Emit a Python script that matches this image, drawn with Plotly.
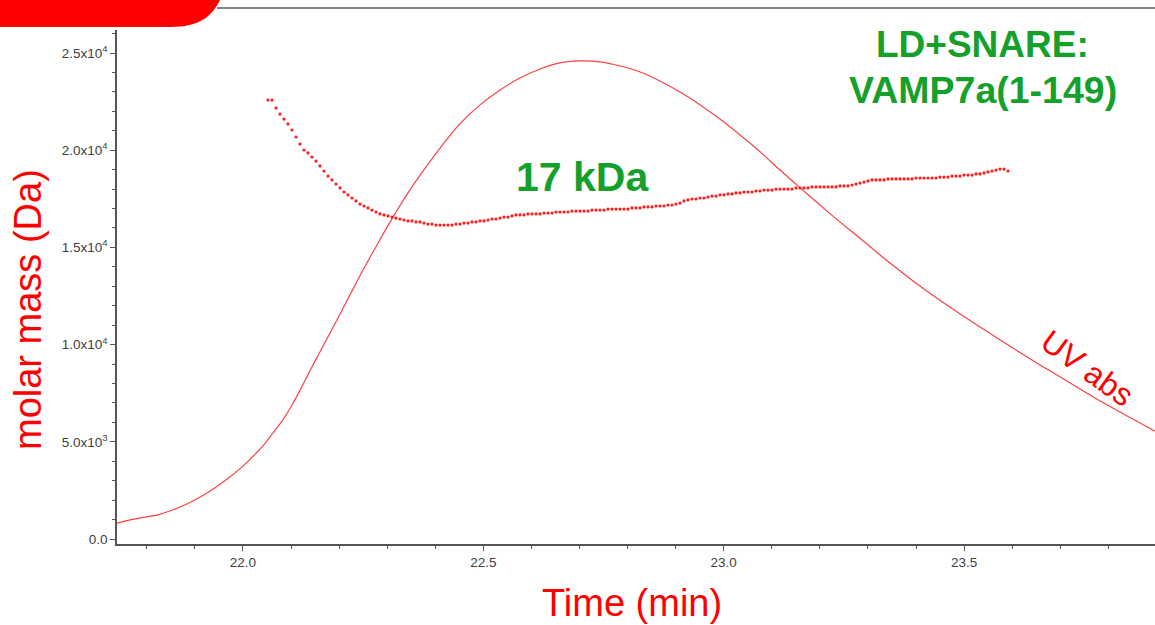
import plotly.graph_objects as go

# ---------------- data ----------------
# UV absorbance trace (arbitrary units, drawn on the molar-mass scale)
uv_time = [21.738, 21.765, 21.796, 21.821, 21.848, 21.879, 21.911, 21.942, 21.969, 21.994,
           22.019, 22.042, 22.062, 22.083, 22.102, 22.119, 22.139, 22.160, 22.202, 22.243,
           22.281, 22.312, 22.347, 22.379, 22.410, 22.451, 22.493, 22.535, 22.576, 22.618,
           22.659, 22.701, 22.743, 22.784, 22.826, 22.867, 22.909, 22.951, 22.992, 23.034,
           23.076, 23.117, 23.159, 23.200, 23.242, 23.284, 23.325, 23.367, 23.408, 23.450,
           23.492, 23.533, 23.575, 23.616, 23.658, 23.700, 23.741, 23.783, 23.824, 23.866,
           23.897]
uv_abs = [820, 980, 1130, 1230, 1440, 1750, 2160, 2640, 3120, 3620,
          4200, 4800, 5440, 6130, 6890, 7670, 8640, 9620, 11570, 13530,
          15230, 16560, 17950, 19080, 20110, 21350, 22330, 23100, 23710, 24180,
          24490, 24590, 24540, 24330, 24020, 23560, 22990, 22330, 21600, 20780,
          19910, 18980, 18060, 17180, 16300, 15460, 14610, 13790, 13010, 12270,
          11570, 10900, 10240, 9590, 8950, 8330, 7720, 7100, 6530, 5970,
          5550]

# molar mass, one reading per acquisition (uniform sampling)
mm_start_min = 22.052
mm_interval_min = 0.00832
molar_mass = [
    22580, 22580, 22170, 21860, 21600, 21350, 21040, 20680, 20320, 20010,
    19860, 19650, 19440, 19190, 18930, 18670, 18470, 18260, 18060, 17850,
    17700, 17540, 17390, 17230, 17130, 17030, 16920, 16820, 16720, 16670,
    16620, 16560, 16510, 16460, 16410, 16360, 16360, 16310, 16310, 16250,
    16200, 16200, 16150, 16150, 16150, 16150, 16150, 16200, 16200, 16250,
    16250, 16310, 16310, 16360, 16360, 16410, 16460, 16460, 16510, 16560,
    16560, 16620, 16670, 16670, 16670, 16720, 16720, 16720, 16720, 16770,
    16770, 16770, 16820, 16820, 16820, 16820, 16870, 16870, 16870, 16870,
    16870, 16920, 16920, 16920, 16920, 16970, 16970, 16970, 16970, 16970,
    16970, 17030, 17030, 17030, 17080, 17080, 17080, 17130, 17130, 17130,
    17180, 17180, 17230, 17280, 17390, 17440, 17490, 17490, 17540, 17540,
    17590, 17640, 17640, 17700, 17700, 17750, 17750, 17800, 17800, 17850,
    17850, 17850, 17900, 17900, 17950, 17950, 17950, 18000, 18000, 18000,
    18000, 18000, 18060, 18060, 18060, 18060, 18110, 18110, 18110, 18110,
    18110, 18110, 18110, 18160, 18160, 18160, 18210, 18260, 18310, 18360,
    18420, 18470, 18470, 18470, 18470, 18520, 18520, 18520, 18520, 18520,
    18520, 18520, 18570, 18570, 18570, 18570, 18570, 18570, 18620, 18620,
    18620, 18670, 18670, 18670, 18720, 18720, 18720, 18780, 18780, 18830,
    18880, 18930, 18980, 19030, 19030, 18930]
mm_time = [mm_start_min + i * mm_interval_min for i in range(len(molar_mass))]

x_tick_vals = [22.0, 22.5, 23.0, 23.5]
x_tick_text = ["22.0", "22.5", "23.0", "23.5"]
y_tick_vals = [0, 5000, 10000, 15000, 20000, 25000]
y_tick_text = ["0.0", "5.0x10<sup>3</sup>", "1.0x10<sup>4</sup>", "1.5x10<sup>4</sup>",
               "2.0x10<sup>4</sup>", "2.5x10<sup>4</sup>"]

# ---------------- figure ----------------
W, H = 1155, 625
ML, MR, MT, MB = 117, 0, 30, 81
PW, PH = W - ML - MR, H - MT - MB
FONT = "Liberation Sans, Arial, sans-serif"
RED = "#ff0000"
GREEN = "#15a02b"
AXIS = "#555555"


def px(x):
    return (x - ML) / PW


def py(y):
    return (H - MB - y) / PH


fig = go.Figure()
fig.add_trace(go.Scatter(x=uv_time, y=uv_abs, mode="lines", name="UV abs",
                         line=dict(color="#ff4040", width=1.2, shape="spline", smoothing=0.5),
                         hoverinfo="x+y"))
fig.add_trace(go.Scatter(x=mm_time, y=molar_mass, mode="markers", name="molar mass",
                         marker=dict(color="#ff1a1a", size=3.2, line=dict(width=0)),
                         hoverinfo="x+y"))

fig.update_layout(
    width=W, height=H,
    margin=dict(l=ML, r=MR, t=MT, b=MB, pad=0),
    paper_bgcolor="white", plot_bgcolor="white",
    showlegend=False,
    font=dict(family=FONT, color="#444444", size=14),
    xaxis=dict(range=[21.738, 23.897], showgrid=False, zeroline=False,
               showline=True, linecolor=AXIS, linewidth=1.6,
               tickmode="array", tickvals=x_tick_vals, ticktext=x_tick_text,
               ticks="outside", ticklen=5, tickwidth=1, tickcolor=AXIS,
               tickfont=dict(size=13.5, color="#404040", family=FONT),
               minor=dict(dtick=0.1, tick0=22.0, ticks="outside", ticklen=3,
                          tickcolor=AXIS, tickwidth=1, showgrid=False),
               automargin=False),
    yaxis=dict(range=[-257, 26183], showgrid=False, zeroline=False,
               showline=True, linecolor=AXIS, linewidth=1.6,
               tickmode="array", tickvals=y_tick_vals, ticktext=y_tick_text,
               ticks="outside", ticklen=5, tickwidth=1, tickcolor=AXIS,
               tickfont=dict(size=13.5, color="#404040", family=FONT),
               minor=dict(dtick=1000, tick0=0, ticks="outside", ticklen=3,
                          tickcolor=AXIS, tickwidth=1, showgrid=False),
               automargin=False),
)

# axis titles (placed as in the reference)
fig.add_annotation(text="Time (min)", xref="paper", yref="paper",
                   x=px(632), y=py(603), xanchor="center", yanchor="middle",
                   showarrow=False, font=dict(size=38, color=RED, family=FONT))
fig.add_annotation(text="molar mass (Da)", xref="paper", yref="paper",
                   x=px(28), y=py(310), xanchor="center", yanchor="middle",
                   textangle=-90, showarrow=False,
                   font=dict(size=38, color=RED, family=FONT))

# slide decorations: red tab in the corner, thin frame line on top
fig.add_shape(type="path", xref="paper", yref="paper", layer="above",
              path=(f"M {px(0)},{py(0)} L {px(220)},{py(0)} "
                    f"C {px(212)},{py(16)} {px(200)},{py(27)} {px(170)},{py(27)} "
                    f"L {px(0)},{py(27)} Z"),
              fillcolor=RED, line=dict(width=0))
fig.add_shape(type="line", xref="paper", yref="paper",
              x0=px(217), x1=px(1160), y0=py(8), y1=py(8),
              line=dict(color="#5a5a5a", width=1.6))

fig.add_annotation(text="<b>17 kDa</b>", xref="paper", yref="paper",
                   x=px(582), y=py(177), xanchor="center", yanchor="middle",
                   showarrow=False, font=dict(size=41, color=GREEN, family=FONT))
fig.add_annotation(text="<b>LD+SNARE:</b>", xref="paper", yref="paper",
                   x=px(982), y=py(44), xanchor="center", yanchor="middle",
                   showarrow=False, font=dict(size=37, color=GREEN, family=FONT))
fig.add_annotation(text="<b>VAMP7a(1-149)</b>", xref="paper", yref="paper",
                   x=px(983), y=py(90), xanchor="center", yanchor="middle",
                   showarrow=False, font=dict(size=37.5, color=GREEN, family=FONT))
fig.add_annotation(text="UV abs", xref="paper", yref="paper",
                   x=px(1087), y=py(368), xanchor="center", yanchor="middle",
                   textangle=36, showarrow=False,
                   font=dict(size=32, color=RED, family=FONT))

fig.write_html("out.html")
